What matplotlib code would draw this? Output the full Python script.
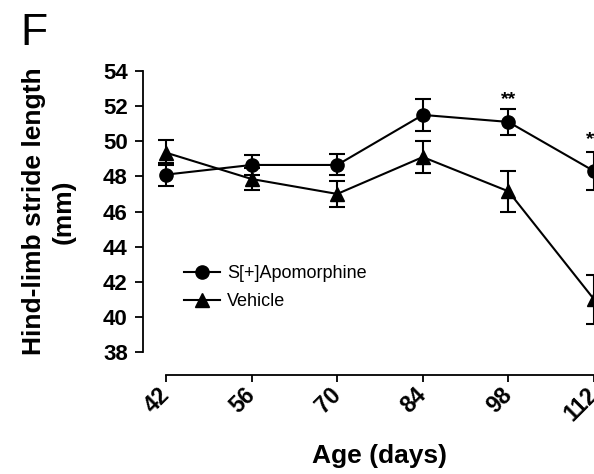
import matplotlib
matplotlib.use('Agg')
import matplotlib.pyplot as plt

plt.rcParams['font.family'] = ['Liberation Sans', 'DejaVu Sans']

# data
age = [42, 56, 70, 84, 98, 112]
apo_mean = [48.1, 48.65, 48.65, 51.5, 51.1, 48.3]
apo_sem = [0.65, 0.57, 0.6, 0.93, 0.75, 1.1]
veh_mean = [49.35, 47.85, 47.0, 49.1, 47.15, 41.0]
veh_sem = [0.7, 0.65, 0.75, 0.9, 1.15, 1.4]
stars_age = [98, 112]
stars_y = [52.4, 50.1]

fig = plt.figure(figsize=(5.94, 4.74), dpi=100)
ax = fig.add_axes([166/594, 1-352/474, 428/594, 281/474])

# spines first: set_position resets tick label styles
for s in ['top', 'right']:
    ax.spines[s].set_visible(False)
ax.spines['left'].set_position(('outward', 16.5))
ax.spines['bottom'].set_position(('outward', 16.5))
ax.spines['left'].set_linewidth(1.3)
ax.spines['bottom'].set_linewidth(1.3)

apo = ax.errorbar(age, apo_mean, yerr=apo_sem, color='black', marker='o', ms=9.5,
                  lw=1.5, capsize=6, capthick=1.5, elinewidth=1.5,
                  clip_on=False, zorder=3)
veh = ax.errorbar(age, veh_mean, yerr=veh_sem, color='black', marker='^', ms=10,
                  lw=1.5, capsize=6, capthick=1.5, elinewidth=1.5,
                  clip_on=False, zorder=3)

for a, s in zip(stars_age, stars_y):
    ax.text(a, s, '**', ha='center', va='center', fontsize=14, fontweight='bold')

ax.set_xlim(42, 112)
ax.set_ylim(38, 54)
ax.spines['left'].set_bounds(38, 54)
ax.tick_params(axis='y', width=1.3, length=6, direction='out', pad=5)
ax.tick_params(axis='x', width=1.3, length=5, direction='out', pad=7)
ax.set_yticks(range(38, 55, 2))
ax.set_yticklabels([str(v) for v in range(38, 55, 2)], fontweight='bold', fontsize=16)
ax.set_xticks(age)
ax.set_xticklabels([str(a) for a in age], rotation=45, ha='right', va='center',
                   rotation_mode='anchor', fontweight='bold', fontsize=16.5)

ax.set_xlabel('Age (days)', fontsize=19, fontweight='bold', labelpad=13)
ax.set_ylabel('Hind-limb stride length\n(mm)', fontsize=19, fontweight='bold',
              labelpad=20, linespacing=1.3)

leg = ax.legend([apo.lines[0], veh.lines[0]], ['S[+]Apomorphine', 'Vehicle'],
                loc='upper left', bbox_to_anchor=(0.025, 0.335), frameon=False,
                fontsize=13, handlelength=2.0, handletextpad=0.4,
                labelspacing=0.6, borderaxespad=0.0)

fig.text(20/594, 1-45/474, 'F', fontsize=32, ha='left', va='baseline')

fig.savefig('out.png', dpi=100)
